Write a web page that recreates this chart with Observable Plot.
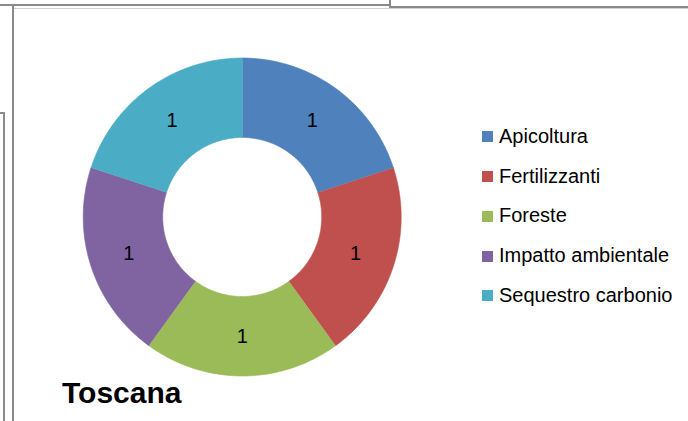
<!DOCTYPE html>
<html>
<head>
<meta charset="utf-8">
<script src="https://cdn.jsdelivr.net/npm/d3@7"></script>
<script src="https://cdn.jsdelivr.net/npm/@observablehq/plot@0.6"></script>
<style>
  html, body { margin: 0; padding: 0; background: #fff; }
  #wrap { position: relative; width: 688px; height: 421px; overflow: hidden; background: #fff;
          font-family: "Liberation Sans", Arial, sans-serif; }
  #wrap svg { position: absolute; left: 0; top: 0; }
  .ln { position: absolute; background: #8a8a8a; }
  .lg-sw { position: absolute; width: 11px; height: 11px; }
  .lg-tx { position: absolute; font-size: 20px; line-height: 20px; color: #000; white-space: nowrap; }
  #title { position: absolute; left: 62px; top: 377.5px; font-size: 30px; line-height: 30px;
           font-weight: bold; color: #000; white-space: nowrap; }
</style>
</head>
<body>
<div id="wrap"></div>
<script>
// ---- data ----
const categories = ["Apicoltura", "Fertilizzanti", "Foreste", "Impatto ambientale", "Sequestro carbonio"];
const values = [1, 1, 1, 1, 1];
const colors = ["#4F81BD", "#C0504D", "#9BBB59", "#8064A2", "#4BACC6"];
const titleText = "Toscana";

// ---- layout (pixels) ----
const W = 688, H = 421;
const cx = 241.7, cy = 216.5, R = 159, r = 79.5;

const table = categories.map((c, i) => ({category: c, value: values[i]}));
const arcs = d3.pie().sort(null).value(d => d.value)(table);

// slice polygons in units of outer radius (y up)
const ri = r / R;
const pts = [];
const labels = [];
arcs.forEach(a => {
  const n = 80;
  for (let k = 0; k <= n; k++) {
    const t = a.startAngle + (a.endAngle - a.startAngle) * k / n;
    pts.push({category: a.data.category, x: Math.sin(t), y: Math.cos(t)});
  }
  for (let k = n; k >= 0; k--) {
    const t = a.startAngle + (a.endAngle - a.startAngle) * k / n;
    pts.push({category: a.data.category, x: ri * Math.sin(t), y: ri * Math.cos(t)});
  }
  const m = (a.startAngle + a.endAngle) / 2, rm = (1 + ri) / 2;
  labels.push({category: a.data.category, value: a.data.value, x: rm * Math.sin(m), y: rm * Math.cos(m)});
});

const chart = Plot.plot({
  width: W, height: H, margin: 0,
  style: {background: "transparent", fontFamily: "'Liberation Sans', Arial, sans-serif"},
  x: {domain: [-cx / R, (W - cx) / R], range: [0, W], axis: null},
  y: {domain: [(cy - H) / R, cy / R], range: [H, 0], axis: null},
  color: {domain: categories, range: colors},
  marks: [
    Plot.line(pts, {x: "x", y: "y", z: "category", fill: "category", stroke: "category", strokeWidth: 0.6}),
    Plot.text(labels, {x: "x", y: "y", text: d => String(d.value), fontSize: 20, fill: "#000"})
  ]
});

const wrap = document.getElementById("wrap");
wrap.appendChild(chart);

// frame lines (screenshot borders)
const lines = [
  {l: 0, t: 4, w: 391, h: 2},
  {l: 389, t: 0, w: 2, h: 6},
  {l: 389, t: 6, w: 299, h: 1.5},
  {l: 12, t: 4, w: 2, h: 417},
  {l: 0, t: 112, w: 5, h: 2},
  {l: 3, t: 112, w: 2, h: 309}
];
lines.forEach(s => {
  const d = document.createElement("div");
  d.className = "ln";
  Object.assign(d.style, {left: s.l + "px", top: s.t + "px", width: s.w + "px", height: s.h + "px"});
  wrap.appendChild(d);
});
const lt = document.createElement("div");
lt.className = "ln";
Object.assign(lt.style, {left: "14px", top: "7.5px", width: "674px", height: "1px", background: "#d0d0d0"});
wrap.appendChild(lt);

// legend
const color = chart.scale("color");
categories.forEach((c, i) => {
  const yc = 136.7 + i * 39.8;
  const sw = document.createElement("div");
  sw.className = "lg-sw";
  Object.assign(sw.style, {left: "482px", top: (yc - 5.5) + "px", background: color.apply(c)});
  wrap.appendChild(sw);
  const tx = document.createElement("div");
  tx.className = "lg-tx";
  tx.textContent = c;
  Object.assign(tx.style, {left: "499px", top: (yc + 6 - 16.9) + "px"});
  wrap.appendChild(tx);
});

const title = document.createElement("div");
title.id = "title";
title.textContent = titleText;
wrap.appendChild(title);
</script>
</body>
</html>
